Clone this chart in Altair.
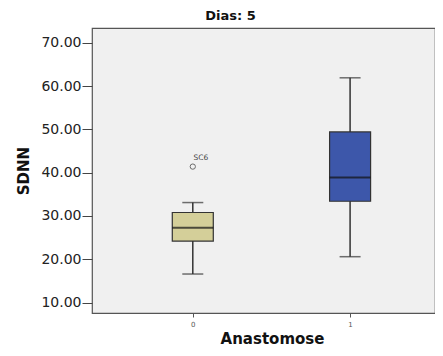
import altair as alt
import pandas as pd

# Data
groups = [0, 1]
lower_whisker = [16.6, 20.6]
q1 = [24.2, 33.4]
median = [27.3, 38.9]
q3 = [30.8, 49.4]
upper_whisker = [33.1, 61.9]
box_colors = ["#D4CF99", "#3D57AA"]

outlier_group = [0]
outlier_value = [41.4]
outlier_label = ["SC6"]

y_ticks = [10, 20, 30, 40, 50, 60, 70]

df = pd.DataFrame({
    "g": groups, "lo": lower_whisker, "q1": q1, "med": median,
    "q3": q3, "hi": upper_whisker, "col": box_colors,
})
out = pd.DataFrame({"g": outlier_group, "v": outlier_value, "lab": outlier_label})

W, H = 343, 285
xscale = alt.Scale(domain=[-0.609, 1.508], nice=False, zero=False)
yscale = alt.Scale(domain=[7.6, 73.4], nice=False, zero=False)

x_axis = alt.Axis(values=[0, 1], format="d", title="Anastomose", grid=False, domain=False,
                  tickSize=4, tickColor="#555555", labelFontSize=7, labelColor="#555555",
                  labelPadding=3, titleFontSize=15, titleFontWeight="bold", titleColor="#111111",
                  titlePadding=4, titleX=180, labelFont="DejaVu Sans", titleFont="DejaVu Sans")
y_axis = alt.Axis(values=y_ticks, format=".2f", title="SDNN", grid=False, domain=False,
                  tickSize=10, tickColor="#444444", labelFontSize=14, labelColor="#222222",
                  labelPadding=1, titleFontSize=15, titleFontWeight="bold", titleColor="#111111",
                  titlePadding=9, labelFont="DejaVu Sans", titleFont="DejaVu Sans")

X = alt.X("g:Q", scale=xscale, axis=x_axis)

whisk = alt.Chart(df).mark_rule(color="#333333", strokeWidth=1.5).encode(
    x=X, y=alt.Y("lo:Q", scale=yscale, axis=y_axis), y2="hi:Q")
caps_lo = alt.Chart(df).mark_tick(orient="horizontal", size=21, thickness=1.5, color="#333333").encode(
    x=X, y=alt.Y("lo:Q", scale=yscale))
caps_hi = alt.Chart(df).mark_tick(orient="horizontal", size=21, thickness=1.5, color="#333333").encode(
    x=X, y=alt.Y("hi:Q", scale=yscale))
box = alt.Chart(df).mark_bar(size=41, stroke="#333333", strokeWidth=1.2).encode(
    x=X, y=alt.Y("q1:Q", scale=yscale), y2="q3:Q",
    fill=alt.Fill("col:N", scale=None))
med = alt.Chart(df).mark_tick(orient="horizontal", size=41, thickness=2, color="#111111").encode(
    x=X, y=alt.Y("med:Q", scale=yscale))
pts = alt.Chart(out).mark_point(shape="circle", filled=False, size=28, color="#333333", strokeWidth=1).encode(
    x=X, y=alt.Y("v:Q", scale=yscale))
labs = alt.Chart(out).mark_text(dx=8, dy=-9, fontSize=7.5, color="#444444", font="DejaVu Sans").encode(
    x=X, y=alt.Y("v:Q", scale=yscale), text="lab:N")

chart = alt.layer(whisk, caps_lo, caps_hi, box, med, pts, labs).properties(
    width=W, height=H,
    autosize=alt.AutoSizeParams(type="none"),
    padding={"left": 84, "top": 20, "right": 0, "bottom": 35},
    title=alt.TitleParams("Dias: 5", fontSize=13, fontWeight="bold", font="DejaVu Sans",
                          color="#111111", anchor="middle", dx=-33, offset=5),
).configure_view(fill="#F0F0F0", stroke="#555555", strokeWidth=1.2)

chart.save("out.html", embed_options={"renderer": "svg", "actions": False})
